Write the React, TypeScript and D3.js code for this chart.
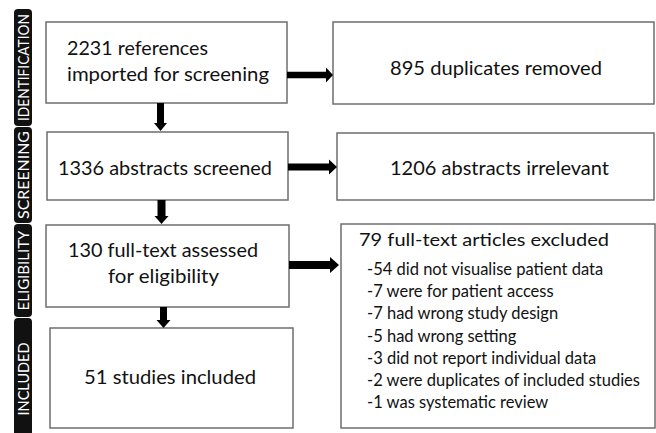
import React from "react";
import * as d3 from "d3";

// ---- content ----
const stageLabels = ["IDENTIFICATION", "SCREENING", "ELIGIBILITY", "INCLUDED"];
const leftBoxTexts = [
  ["2231 references", "imported for screening"],
  ["1336 abstracts screened"],
  ["130 full-text assessed", "for eligibility"],
  ["51 studies included"],
];
const rightBoxTexts = [["895 duplicates removed"], ["1206 abstracts irrelevant"]];
const excludedTitle = "79 full-text articles excluded";
const excludedReasons = [
  "-54 did not visualise patient data",
  "-7 were for patient access",
  "-7 had wrong study design",
  "-5 had wrong setting",
  "-3 did not report individual data",
  "-2 were duplicates of included studies",
  "-1 was systematic review",
];

// ---- layout ----
const W = 656;
const H = 433;
const FONT = "Lato, 'Open Sans', sans-serif";
const pills = [
  { y0: 9, y1: 126, tl: 107 },
  { y0: 127, y1: 223, tl: 88 },
  { y0: 224, y1: 317, tl: 80 },
  { y0: 318, y1: 445, tl: 73 },
];
const leftBoxes = [
  { x0: 46, x1: 287, y0: 22, y1: 103 },
  { x0: 47, x1: 288, y0: 132, y1: 200 },
  { x0: 46, x1: 289, y0: 225, y1: 307 },
  { x0: 50, x1: 293, y0: 328, y1: 428 },
];
const leftTextLayout = [
  [{ x: 67, y: 55, w: 141, a: "start" }, { x: 67, y: 81, w: 202, a: "start" }],
  [{ x: 165, y: 175, w: 214, a: "middle" }],
  [{ x: 163, y: 257, w: 190, a: "middle" }, { x: 163.5, y: 283, w: 111, a: "middle" }],
  [{ x: 170, y: 384, w: 172, a: "middle" }],
];
const rightBoxes = [
  { x0: 333, x1: 654, y0: 22, y1: 104 },
  { x0: 337, x1: 654, y0: 133, y1: 200 },
  { x0: 341, x1: 655, y0: 224, y1: 428 },
];
const rightTextLayout = [
  { x: 496, y: 75, w: 212 },
  { x: 499.5, y: 175, w: 219 },
];
const rightArrows = [
  { x0: 287, x1: 333, y: 75, t: 6.5, hl: 7, hh: 15 },
  { x0: 288, x1: 337, y: 167, t: 7, hl: 8, hh: 15 },
  { x0: 289, x1: 339, y: 265, t: 8, hl: 9, hh: 16 },
];
const downArrows = [
  { x: 160.5, y0: 103, y1: 131, t: 7, hl: 8, hw: 13 },
  { x: 161.5, y0: 200, y1: 224, t: 8, hl: 8, hw: 14 },
  { x: 163.5, y0: 307, y1: 328, t: 7, hl: 8, hw: 14 },
];

function rightArrowPath(a: any) {
  const p = d3.path();
  const hx = a.x1 - a.hl;
  p.moveTo(a.x0, a.y - a.t / 2);
  p.lineTo(hx, a.y - a.t / 2);
  p.lineTo(hx, a.y - a.hh / 2);
  p.lineTo(a.x1, a.y);
  p.lineTo(hx, a.y + a.hh / 2);
  p.lineTo(hx, a.y + a.t / 2);
  p.lineTo(a.x0, a.y + a.t / 2);
  p.closePath();
  return p.toString();
}
function downArrowPath(a: any) {
  const p = d3.path();
  const hy = a.y1 - a.hl;
  p.moveTo(a.x - a.t / 2, a.y0);
  p.lineTo(a.x - a.t / 2, hy);
  p.lineTo(a.x - a.hw / 2, hy);
  p.lineTo(a.x, a.y1);
  p.lineTo(a.x + a.hw / 2, hy);
  p.lineTo(a.x + a.t / 2, hy);
  p.lineTo(a.x + a.t / 2, a.y0);
  p.closePath();
  return p.toString();
}

const BOX_STROKE = "#6e6e6e";
const TEXT = "#111";

export default function App() {
  const reasonY = d3.scaleLinear().domain([0, excludedReasons.length - 1]).range([275, 408]);
  return (
    <svg
      width={W}
      height={H}
      style={{ position: "absolute", left: 0, top: 0, background: "#fff" }}
      fontFamily={FONT}
    >
      <rect x={0} y={0} width={W} height={H} fill="#fff" />
      {stageLabels.map((s, i) => {
        const p = pills[i];
        const cy = (p.y0 + Math.min(p.y1, H)) / 2;
        const tcy = i === 3 ? 379 : cy;
        return (
          <g key={s}>
            <rect x={14} y={p.y0} width={18} height={p.y1 - p.y0} rx={4} fill="#111" />
            <text
              transform={`translate(28.5,${tcy}) rotate(-90)`}
              textAnchor="middle"
              fill="#fff"
              fontSize={15}
              textLength={p.tl}
              lengthAdjust="spacingAndGlyphs"
            >
              {s}
            </text>
          </g>
        );
      })}
      {leftBoxes.map((b, i) => (
        <g key={"lb" + i}>
          <rect x={b.x0} y={b.y0} width={b.x1 - b.x0} height={b.y1 - b.y0} fill="#fff" stroke={BOX_STROKE} strokeWidth={1.5} />
          {leftBoxTexts[i].map((t, j) => {
            const l = leftTextLayout[i][j];
            return (
              <text key={j} x={l.x} y={l.y} textAnchor={l.a} fontSize={19} fill={TEXT} textLength={l.w} lengthAdjust="spacingAndGlyphs">
                {t}
              </text>
            );
          })}
        </g>
      ))}
      {rightBoxes.map((b, i) => (
        <rect key={"rb" + i} x={b.x0} y={b.y0} width={b.x1 - b.x0} height={b.y1 - b.y0} fill="#fff" stroke={BOX_STROKE} strokeWidth={1.5} />
      ))}
      {rightBoxTexts.map((t, i) => {
        const l = rightTextLayout[i];
        return (
          <text key={"rt" + i} x={l.x} y={l.y} textAnchor="middle" fontSize={19} fill={TEXT} textLength={l.w} lengthAdjust="spacingAndGlyphs">
            {t[0]}
          </text>
        );
      })}
      <text x={359} y={246} fontSize={18} fill={TEXT} textLength={250} lengthAdjust="spacingAndGlyphs">
        {excludedTitle}
      </text>
      {excludedReasons.map((r, i) => (
        <text key={r} x={367} y={reasonY(i)} fontSize={16.5} fill={TEXT}>
          {r}
        </text>
      ))}
      {rightArrows.map((a, i) => (
        <path key={"ra" + i} d={rightArrowPath(a)} fill="#000" />
      ))}
      {downArrows.map((a, i) => (
        <path key={"da" + i} d={downArrowPath(a)} fill="#000" />
      ))}
    </svg>
  );
}
